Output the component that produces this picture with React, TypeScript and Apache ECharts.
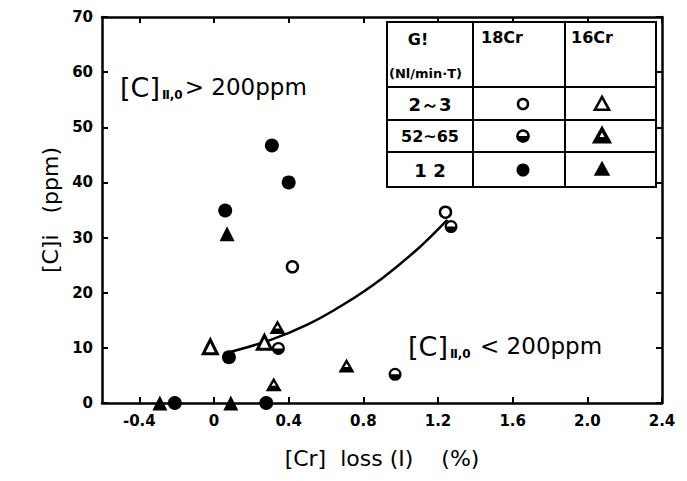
import React, { useEffect, useRef } from 'react';
import * as echarts from 'echarts';

// Axis tick values
const xTickValues = [-0.4, 0, 0.4, 0.8, 1.2, 1.6, 2.0, 2.4];
const yTickValues = [0, 10, 20, 30, 40, 50, 60, 70];

// 18Cr series  [Cr]loss (%), [C]i (ppm)
const cr18Gl23 = [[0.42, 24.7], [1.24, 34.6]];
const cr18Gl52 = [[0.345, 9.9], [0.97, 5.2], [1.27, 32.0]];
const cr18Gl12 = [[0.06, 34.9], [0.31, 46.7], [0.40, 40.0], [0.08, 8.3], [-0.21, 0], [0.28, 0]];
// 16Cr series
const cr16Gl23 = [[-0.02, 10.2], [0.27, 11.0]];
const cr16Gl52 = [[0.34, 13.8], [0.71, 6.8], [0.32, 3.4]];
const cr16Gl12 = [[0.07, 30.7], [0.09, 0], [-0.29, 0]];
// fitted curve
const fitCurve = [[0.06, 9.0], [0.3, 11.4], [0.5, 14.2], [0.7, 18.0], [0.9, 22.6], [1.1, 28.2], [1.25, 33.2]];

// table texts
const tableHeader = ['G!', '(Nl/min·T)', '18Cr', '16Cr'];
const tableRows = ['2～3', '52~65', '1 2'];

const halfCircle =
  'path://M0,10 A10,10 0 1,1 20,10 A10,10 0 1,1 0,10 Z M3.5,10 A6.5,6.5 0 1,0 16.5,10 A6.5,6.5 0 1,0 3.5,10 Z M0,10 L20,10 A10,10 0 0,1 0,10 Z';
const halfTriangle =
  'path://M10,0 L20,18 L0,18 Z M10,6.5 L4.5,15 L15.5,15 Z M7,11 L13,11 L15.5,15 L4.5,15 Z';

const FONT = 'DejaVu Sans';

export default function App() {
  const ref = useRef<HTMLDivElement>(null);
  useEffect(() => {
    const chart = echarts.init(ref.current!, null, { renderer: 'svg' });

    const tL = 387, tR = 656, tT = 22, tB = 187;
    const c1 = 473, c2 = 565;
    const hB = 87, r1 = 120, r2 = 152;
    const rowY = [104, 136, 170];
    const sx1 = 523, sx2 = 602;
    const ln = (x1: number, y1: number, x2: number, y2: number) => ({
      type: 'line', shape: { x1, y1, x2, y2 }, style: { stroke: '#000', lineWidth: 2 }, z: 10,
    });
    const tri = (cx: number, cy: number, s: number) => [
      [cx, cy - s * 0.55], [cx + s * 0.55, cy + s * 0.45], [cx - s * 0.55, cy + s * 0.45],
    ];
    const txt = (x: number, y: number, text: string, size: number, align = 'center') => ({
      type: 'text', x, y, z: 11,
      style: { text, fontSize: size, fontFamily: FONT, fontWeight: 'bold', fill: '#000', align, verticalAlign: 'middle' },
    });

    const graphic: any[] = [
      { type: 'rect', shape: { x: tL, y: tT, width: tR - tL, height: tB - tT }, style: { fill: '#fff', stroke: '#000', lineWidth: 2 }, z: 9 },
      ln(c1, tT, c1, tB), ln(c2, tT, c2, tB), ln(tL, hB, tR, hB), ln(tL, r1, tR, r1), ln(tL, r2, tR, r2),
      txt(418, 39, tableHeader[0], 16),
      txt(389, 73, tableHeader[1], 13, 'left'),
      txt(502, 37, tableHeader[2], 16),
      txt(592, 37, tableHeader[3], 16),
      txt(430, rowY[0], tableRows[0], 18),
      txt(430, rowY[1], tableRows[1], 16),
      txt(430, rowY[2], tableRows[2], 18),
      { type: 'circle', shape: { cx: sx1, cy: rowY[0], r: 5 }, style: { fill: '#fff', stroke: '#000', lineWidth: 2.5 }, z: 11 },
      { type: 'circle', shape: { cx: sx1, cy: rowY[1], r: 5.5 }, style: { fill: '#fff', stroke: '#000', lineWidth: 2.5 }, z: 11 },
      { type: 'sector', shape: { cx: sx1, cy: rowY[1], r: 6.5, r0: 0, startAngle: 0, endAngle: Math.PI, clockwise: true }, style: { fill: '#000' }, z: 12 },
      { type: 'circle', shape: { cx: sx1, cy: rowY[2], r: 6.5 }, style: { fill: '#000' }, z: 11 },
      { type: 'polygon', shape: { points: tri(sx2, rowY[0], 13) }, style: { fill: '#fff', stroke: '#000', lineWidth: 2.5 }, z: 11 },
      { type: 'polygon', shape: { points: tri(sx2, rowY[1], 13) }, style: { fill: '#fff', stroke: '#000', lineWidth: 3.5 }, z: 11 },
      { type: 'polygon', shape: { points: [[sx2 - 3, rowY[1] + 1], [sx2 + 3, rowY[1] + 1], [sx2 + 5.5, rowY[1] + 5], [sx2 - 5.5, rowY[1] + 5]] }, style: { fill: '#000' }, z: 12 },
      { type: 'polygon', shape: { points: tri(sx2, rowY[2] - 1, 15) }, style: { fill: '#000' }, z: 11 },
      // annotations
      {
        type: 'text', x: 120, y: 87, z: 11,
        style: {
          text: '{a|[C]}{b|Ⅱ,0}{c|> 200ppm}', verticalAlign: 'middle', fill: '#000',
          rich: {
            a: { fontSize: 27, fontFamily: FONT, fill: '#000' },
            b: { fontSize: 12, fontFamily: FONT, fontWeight: 'bold', fill: '#000', verticalAlign: 'bottom', padding: [12, 2, 0, 2] },
            c: { fontSize: 23, fontFamily: FONT, fill: '#000' },
          },
        },
      },
      {
        type: 'text', x: 408, y: 346, z: 11,
        style: {
          text: '{a|[C]}{b|Ⅱ,0}{c| < 200ppm}', verticalAlign: 'middle', fill: '#000',
          rich: {
            a: { fontSize: 27, fontFamily: FONT, fill: '#000' },
            b: { fontSize: 12, fontFamily: FONT, fontWeight: 'bold', fill: '#000', verticalAlign: 'bottom', padding: [12, 2, 0, 2] },
            c: { fontSize: 23, fontFamily: FONT, fill: '#000' },
          },
        },
      },
    ];

    const axisLine = { show: true, onZero: false, lineStyle: { color: '#000', width: 2.5 } };
    const tick = { show: true, inside: true, length: 6, lineStyle: { color: '#000', width: 2 } };

    chart.setOption({
      animation: false,
      backgroundColor: '#fff',
      grid: { left: 102, right: 25, top: 17, bottom: 78, containLabel: false },
      xAxis: [
        {
          type: 'value', min: -0.6, max: 2.4, position: 'bottom',
          axisLine, splitLine: { show: false },
          axisTick: { ...tick, customValues: xTickValues },
          axisLabel: {
            customValues: xTickValues, margin: 10, color: '#000', fontSize: 15, fontWeight: 'bold', fontFamily: FONT,
            formatter: (v: number) => (Math.abs(v) < 1e-9 ? '0' : v.toFixed(1)),
          },
          name: '[Cr]  loss (I)    (%)', nameLocation: 'middle', nameGap: 44,
          nameTextStyle: { color: '#000', fontSize: 22, fontFamily: FONT },
        },
        {
          type: 'value', min: -0.6, max: 2.4, position: 'top',
          axisLine, splitLine: { show: false },
          axisTick: { ...tick, customValues: xTickValues },
          axisLabel: { show: false },
        },
      ],
      yAxis: [
        {
          type: 'value', min: 0, max: 70, interval: 10, position: 'left',
          axisLine, splitLine: { show: false }, axisTick: tick,
          axisLabel: { margin: 9, color: '#000', fontSize: 15, fontWeight: 'bold', fontFamily: FONT },
          name: '[C]i   (ppm)', nameLocation: 'middle', nameGap: 36,
          nameTextStyle: { color: '#000', fontSize: 22, fontFamily: FONT },
        },
        {
          type: 'value', min: 0, max: 70, interval: 10, position: 'right',
          axisLine, splitLine: { show: false }, axisTick: tick, axisLabel: { show: false },
        },
      ],
      graphic,
      series: [
        {
          type: 'line', data: fitCurve, smooth: 0.3, showSymbol: false, symbol: 'none',
          lineStyle: { color: '#000', width: 2.5 }, z: 2,
        },
        {
          name: '18Cr 2~3', type: 'scatter', data: cr18Gl23, symbol: 'circle', symbolSize: 11,
          itemStyle: { color: '#fff', borderColor: '#000', borderWidth: 2.5, opacity: 1 }, z: 3,
        },
        {
          name: '18Cr 52~65', type: 'scatter', data: cr18Gl52, symbol: halfCircle, symbolSize: 13,
          itemStyle: { color: '#000', opacity: 1 }, z: 3,
        },
        {
          name: '18Cr 12', type: 'scatter', data: cr18Gl12, symbol: 'circle', symbolSize: 14,
          itemStyle: { color: '#000', opacity: 1 }, z: 3,
        },
        {
          name: '16Cr 2~3', type: 'scatter', data: cr16Gl23, symbol: 'triangle', symbolSize: 14,
          itemStyle: { color: '#fff', borderColor: '#000', borderWidth: 3, opacity: 1 }, z: 3,
        },
        {
          name: '16Cr 52~65', type: 'scatter', data: cr16Gl52, symbol: halfTriangle, symbolSize: [16, 14],
          itemStyle: { color: '#000', opacity: 1 }, z: 3,
        },
        {
          name: '16Cr 12', type: 'scatter', data: cr16Gl12, symbol: 'triangle', symbolSize: 15,
          itemStyle: { color: '#000', opacity: 1 }, z: 3,
        },
      ],
    });
    return () => chart.dispose();
  }, []);
  return <div ref={ref} style={{ position: 'fixed', left: 0, top: 0, width: 687, height: 481, background: '#fff' }} />;
}
